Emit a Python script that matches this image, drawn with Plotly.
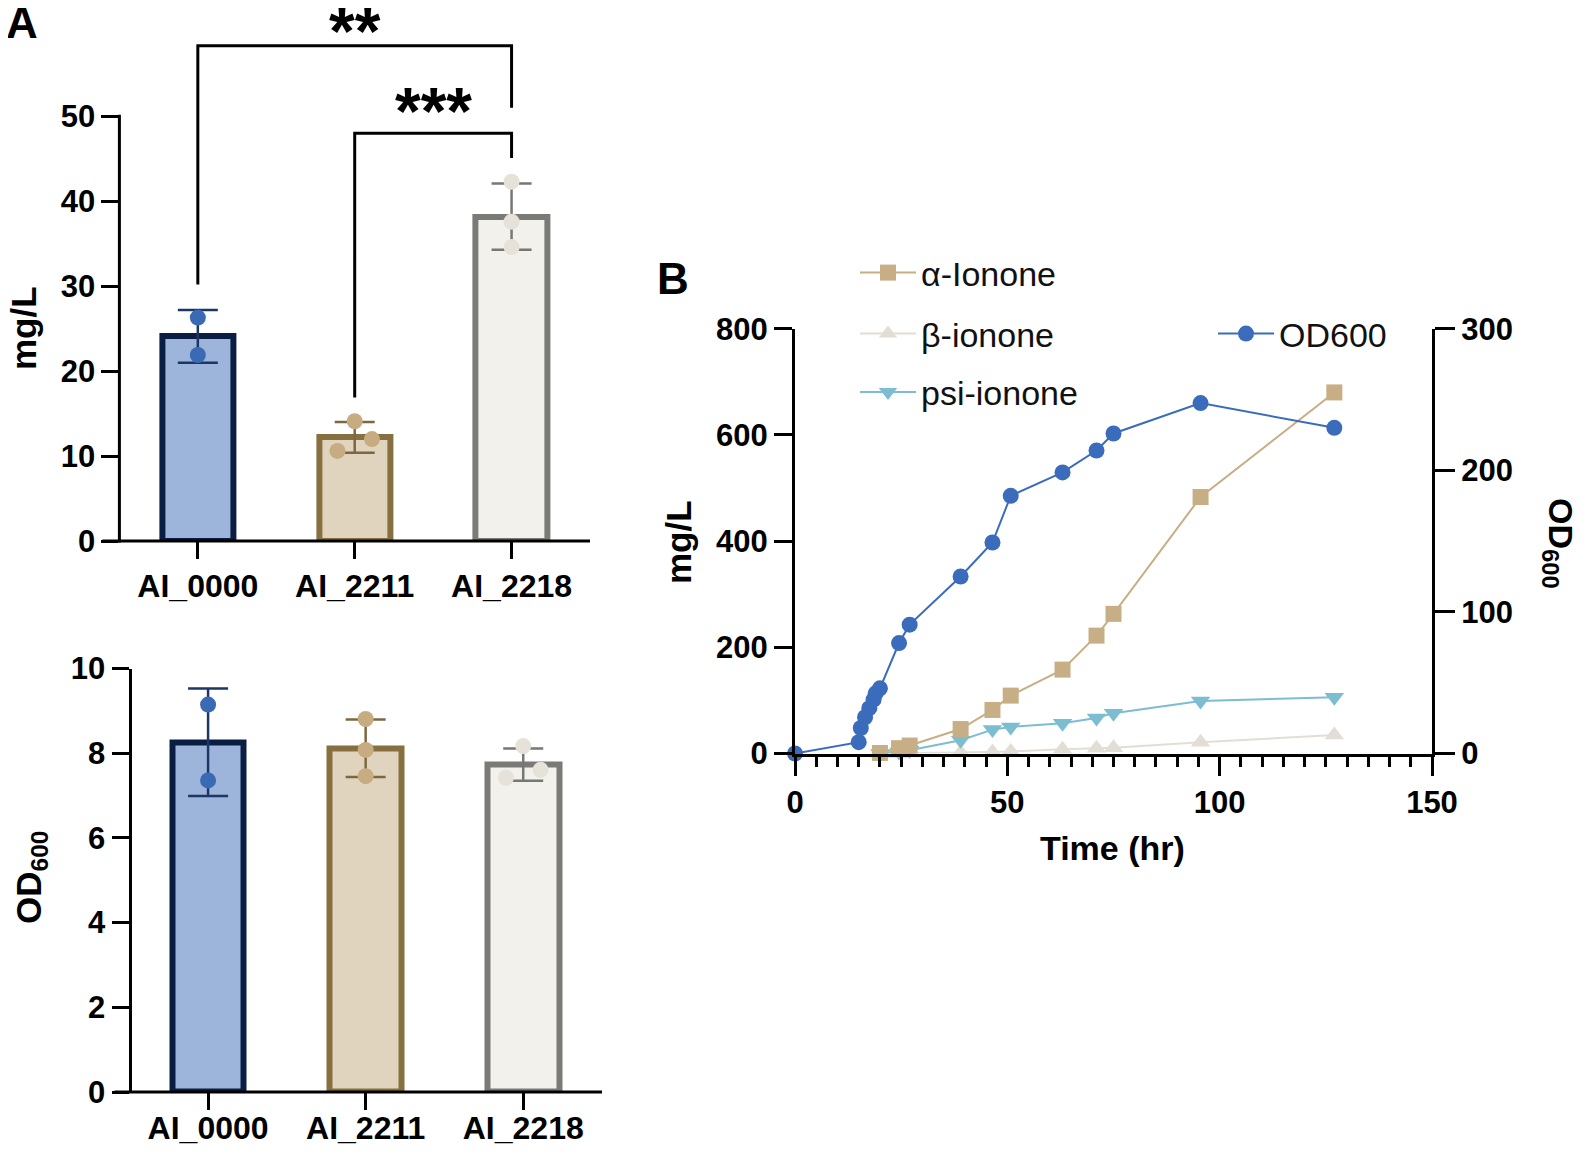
import plotly.graph_objects as go

# The page adds an 8px body margin, so the figure is 16px smaller than the
# window and all page-pixel positions below are shifted by OFF.
W, H = 1586, 1155
OFF = 8
FW, FH = W - 2 * OFF, H - 2 * OFF

# ---------------- data ----------------
strains = ["AI_0000", "AI_2211", "AI_2218"]

titer_mean = [24.1, 12.2, 38.2]
titer_sd = [3.1, 1.8, 3.9]
titer_reps = [[26.3, 21.9], [14.1, 12.0, 10.6], [42.3, 37.6, 34.6]]

od_mean = [8.26, 8.12, 7.73]
od_sd = [1.27, 0.68, 0.38]
od_reps = [[9.15, 7.36], [8.81, 8.08, 7.46], [8.17, 7.42, 7.61]]

sig_labels = ["**", "***"]

od_time = [0, 15, 15.5, 16.5, 17.5, 18.5, 19, 20, 24.5, 27, 39, 46.5, 50.8, 63, 71, 75, 95.5, 127]
od600 = [0, 8, 18, 25.6, 32, 38, 42.5, 46, 78, 91, 125, 149, 182, 198.5, 214, 226, 247.5, 230]

ion_time = [20, 24.5, 27, 39, 46.5, 50.8, 63, 71, 75, 95.5, 127]
alpha_ionone = [1, 10, 15, 46, 82, 109, 158, 222, 263, 483, 680]
beta_ionone = [0, 0, 1, 2, 3, 4, 8, 10, 11, 21, 35]
psi_ionone = [0, 3, 6, 25, 45, 50, 57, 67, 76, 99, 106]

# ---------------- style ----------------
FONT = "Liberation Sans"
fills = ["#9DB5DB", "#E1D4BE", "#F2F1EC"]
outlines = ["#0A1E44", "#86703F", "#7A7A77"]
dots = ["#3A6AB4", "#C6AC80", "#E6E2D9"]
errc = ["#1C3766", "#7D6740", "#777774"]
jit_top = [[0, 0], [0, 0.11, -0.11], [0, 0, 0]]
jit_bot = [[0, 0], [0, 0, 0], [0, -0.11, 0.11]]

C_OD = "#3B6CBC"
C_A = "#C8AE84"
C_B = "#E3DED5"
C_P = "#7CBDD1"

def fx(p):
    return (p - OFF) / FW

def fy(p):
    return 1 - (p - OFF) / FH

def dom_x(a, b):
    return [fx(a), fx(b)]

def dom_y(top, bottom):
    return [fy(bottom), fy(top)]

top_x = dom_x(119.4, 590)
top_y = dom_y(8, 541)
top_range = [0, (541 - 8) / ((541 - 116.3) / 50)]
bot_x = dom_x(131.5, 602)
bot_y = dom_y(668.6, 1092)
bot_range = [0, 10]
r_x = dom_x(795, 1432)
r_y = dom_y(328.7, 753.5)

fig = go.Figure()

def add_bars(mean, sd, reps, jit, xa, ya):
    fig.add_trace(go.Bar(
        x=[0, 1, 2], y=mean, width=0.455,
        marker=dict(color=fills, line=dict(color=outlines, width=6)),
        xaxis=xa, yaxis=ya, showlegend=False, hoverinfo="skip"))
    for i in range(3):
        fig.add_trace(go.Scatter(
            x=[i], y=[mean[i]], mode="markers",
            marker=dict(size=1, opacity=0),
            error_y=dict(type="data", array=[sd[i]], color=errc[i], thickness=2.5, width=20),
            xaxis=xa, yaxis=ya, showlegend=False, hoverinfo="skip"))
        fig.add_trace(go.Scatter(
            x=[i + j for j in jit[i]], y=reps[i], mode="markers",
            marker=dict(size=16, color=dots[i], line=dict(width=0)),
            xaxis=xa, yaxis=ya, showlegend=False, hoverinfo="skip", cliponaxis=False))

add_bars(titer_mean, titer_sd, titer_reps, jit_top, "x", "y")
add_bars(od_mean, od_sd, od_reps, jit_bot, "x2", "y2")

# time course
fig.add_trace(go.Scatter(
    x=od_time, y=od600, name="OD600", mode="lines+markers",
    line=dict(color=C_OD, width=2), marker=dict(symbol="circle", size=16, color=C_OD),
    xaxis="x3", yaxis="y4", legend="legend2", cliponaxis=False))
fig.add_trace(go.Scatter(
    x=ion_time, y=beta_ionone, name="β-ionone", mode="lines+markers",
    line=dict(color=C_B, width=2), marker=dict(symbol="triangle-up", size=17, color=C_B),
    xaxis="x3", yaxis="y3", legend="legend3", cliponaxis=False))
fig.add_trace(go.Scatter(
    x=ion_time, y=psi_ionone, name="psi-ionone", mode="lines+markers",
    line=dict(color=C_P, width=2), marker=dict(symbol="triangle-down", size=17, color=C_P),
    xaxis="x3", yaxis="y3", legend="legend4", cliponaxis=False))
fig.add_trace(go.Scatter(
    x=ion_time, y=alpha_ionone, name="α-Ionone", mode="lines+markers",
    line=dict(color=C_A, width=2), marker=dict(symbol="square", size=16, color=C_A),
    xaxis="x3", yaxis="y3", legend="legend", cliponaxis=False))

tickfont = dict(family=FONT, size=31, color="black", weight="bold")
catfont = dict(family=FONT, size=32, color="black", weight="bold")
common = dict(showgrid=False, zeroline=False, ticks="outside", tickwidth=3,
              tickcolor="black", automargin=False)

def leg(xpx, ypx):
    return dict(x=fx(xpx), y=fy(ypx), xanchor="left", yanchor="middle",
                font=dict(family=FONT, size=34, color="#111111"),
                bgcolor="rgba(0,0,0,0)", itemwidth=56, borderwidth=0)

fig.update_layout(
    width=FW, height=FH, margin=dict(l=0, r=0, t=0, b=0, autoexpand=False),
    paper_bgcolor="white", plot_bgcolor="rgba(0,0,0,0)",
    bargap=0,
    xaxis=dict(domain=top_x, range=[-0.5, 2.5], tickvals=[0, 1, 2], ticktext=strains,
               ticklen=17, showline=False, anchor="y", tickfont=catfont, **common),
    yaxis=dict(domain=top_y, range=top_range, tickvals=[0, 10, 20, 30, 40, 50],
               ticklen=17, showline=False, anchor="x", tickfont=tickfont, **common),
    xaxis2=dict(domain=bot_x, range=[-0.486, 2.5], tickvals=[0, 1, 2], ticktext=strains,
                ticklen=17, showline=False, anchor="y2", tickfont=catfont,
                ticklabelstandoff=-9, **common),
    yaxis2=dict(domain=bot_y, range=bot_range, tickvals=[0, 2, 4, 6, 8, 10],
                ticklen=17, showline=True, linewidth=3, linecolor="black", anchor="x2",
                tickfont=tickfont, **common),
    xaxis3=dict(domain=r_x, range=[0, 150], tickvals=[0, 50, 100, 150], ticklen=19,
                showline=True, linewidth=3, linecolor="black", anchor="y3",
                minor=dict(dtick=5, tick0=0, ticks="outside", ticklen=10, tickwidth=3, tickcolor="black"),
                tickfont=tickfont, **common),
    yaxis3=dict(domain=r_y, range=[0, 800], tickvals=[0, 200, 400, 600, 800], ticklen=18,
                showline=True, linewidth=3, linecolor="black", anchor="x3",
                tickfont=tickfont, **common),
    yaxis4=dict(domain=r_y, range=[0, 300], tickvals=[0, 100, 200, 300], ticklen=20,
                showline=True, linewidth=3, linecolor="black", anchor="x3",
                overlaying="y3", side="right", tickfont=tickfont, **common),
    legend=leg(855, 273),
    legend3=leg(855, 334),
    legend4=leg(855, 392.5),
    legend2=leg(1213, 334),
)

def ypaper(v, dom, rng):
    return dom[0] + (v - rng[0]) / (rng[1] - rng[0]) * (dom[1] - dom[0])

shapes = []
shapes.append(dict(type="line", xref="paper", yref="paper",
                   x0=top_x[0], x1=top_x[0],
                   y0=ypaper(0, top_y, top_range) - 1.5 / FH, y1=ypaper(50, top_y, top_range) + 1.5 / FH,
                   line=dict(color="black", width=3)))
shapes.append(dict(type="line", xref="paper", yref="paper",
                   x0=top_x[0] - 17 / FW, x1=top_x[1],
                   y0=ypaper(0, top_y, top_range), y1=ypaper(0, top_y, top_range),
                   line=dict(color="black", width=3)))
shapes.append(dict(type="line", xref="paper", yref="paper",
                   x0=bot_x[0] - 17 / FW, x1=bot_x[1],
                   y0=bot_y[0], y1=bot_y[0],
                   line=dict(color="black", width=3)))
shapes.append(dict(type="path", xref="x", yref="y",
                   path="M 0,30.2 L 0,58.3 L 2,58.3 L 2,51.0",
                   line=dict(color="black", width=3)))
shapes.append(dict(type="path", xref="x", yref="y",
                   path="M 1,16.9 L 1,48.0 L 2,48.0 L 2,45.1",
                   line=dict(color="black", width=3)))
fig.update_layout(shapes=shapes)

bold = dict(family=FONT, color="black", weight="bold")
ann = [
    dict(text="A", x=fx(22), y=fy(22), font=dict(size=44, **bold)),
    dict(text="B", x=fx(673), y=fy(278), font=dict(size=44, **bold)),
    dict(text="mg/L", x=fx(23), y=fy(328), textangle=-90, font=dict(size=35, **bold)),
    dict(text="OD<sub>600</sub>", x=fx(31), y=fy(878), textangle=-90, font=dict(size=35, **bold)),
    dict(text="mg/L", x=fx(678), y=fy(542), textangle=-90, font=dict(size=35, **bold)),
    dict(text="Time (hr)", x=fx(1112), y=fy(848), font=dict(size=34, **bold)),
    dict(text="OD<sub>600</sub>", x=fx(1558), y=fy(543), textangle=90, font=dict(size=34, **bold)),
]
for a in ann:
    a.update(xref="paper", yref="paper", showarrow=False, xanchor="center", yanchor="middle")
ann.append(dict(text=sig_labels[0], x=1, y=60.0, xref="x", yref="y", showarrow=False,
                font=dict(size=66, **bold), xanchor="center", yanchor="middle"))
ann.append(dict(text=sig_labels[1], x=1.5, y=50.6, xref="x", yref="y", showarrow=False,
                font=dict(size=66, **bold), xanchor="center", yanchor="middle"))
fig.update_layout(annotations=ann)

fig.write_html("out.html")
